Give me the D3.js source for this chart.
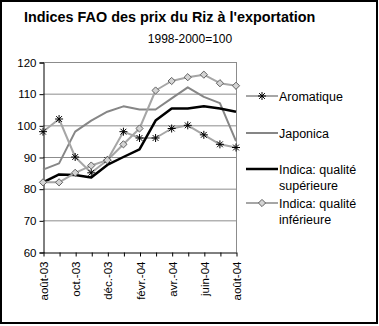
<!DOCTYPE html>
<html>
<head>
<meta charset="utf-8">
<script src="https://cdn.jsdelivr.net/npm/d3@7"></script>
<style>
  html, body { margin: 0; padding: 0; background: #fff; }
  svg { display: block; font-family: "Liberation Sans", Arial, sans-serif; }
</style>
</head>
<body>
<svg id="chart" width="379" height="326"></svg>
<script>
// Monthly categories, August 2003 to August 2004
const months = ["août-03","sept.-03","oct.-03","nov.-03","déc.-03","janv.-04","févr.-04","mars-04","avr.-04","mai-04","juin-04","juil.-04","août-04"];
const tickLabels = ["août-03","oct.-03","déc.-03","févr.-04","avr.-04","juin-04","août-04"];
const yTicks = [60, 70, 80, 90, 100, 110, 120];

// Index values (1998-2000 = 100)
const aromatique = [98, 102, 90, 85, 89, 98, 96, 96, 99, 100, 97, 94, 93];
const japonica   = [86, 88, 98, 101.5, 104.3, 106, 105, 105, 108.5, 112, 109, 107, 95];
const indicaSup  = [82, 84.5, 84.3, 83.5, 87.5, 90, 92.4, 101.5, 105.3, 105.3, 106, 105.3, 104.3];
const indicaInf  = [82, 82, 85, 87.3, 89, 94, 99, 111, 114, 115.2, 116, 113.3, 112.5];

const seriesNames = ["Aromatique", "Japonica", "Indica: qualité|supérieure", "Indica: qualité|inférieure"];

const svg = d3.select("#chart");

// outer frame
svg.append("rect").attr("x", 1).attr("y", 1).attr("width", 376).attr("height", 322)
  .attr("fill", "#fff").attr("stroke", "#000").attr("stroke-width", 2);

// titles
svg.append("text").attr("x", 24).attr("y", 22)
  .attr("font-size", 14.4).attr("font-weight", "bold").attr("fill", "#000")
  .text("Indices FAO des prix du Riz à l'exportation");
svg.append("text").attr("x", 190).attr("y", 43).attr("text-anchor", "middle")
  .attr("font-size", 12).attr("fill", "#000").text("1998-2000=100");

const plot = { left: 43, right: 236, top: 62, bottom: 252 };

const x = d3.scalePoint().domain(months).range([plot.left, plot.right]);
const y = d3.scaleLinear().domain([60, 120]).range([plot.bottom, plot.top]);

// horizontal gridlines
svg.append("g").selectAll("line").data(yTicks.filter(v => v > 60)).join("line")
  .attr("x1", plot.left).attr("x2", plot.right)
  .attr("y1", d => y(d) + 0.5).attr("y2", d => y(d) + 0.5)
  .attr("stroke", "#8c8c8c").attr("stroke-width", 1);

// right border of plot area
svg.append("line").attr("x1", plot.right + 0.5).attr("x2", plot.right + 0.5)
  .attr("y1", plot.top).attr("y2", plot.bottom)
  .attr("stroke", "#8c8c8c").attr("stroke-width", 1);

// y axis
const yAxis = svg.append("g").attr("transform", `translate(${plot.left + 0.5},0.5)`)
  .call(d3.axisLeft(y).tickValues(yTicks).tickSize(4).tickPadding(3).tickFormat(d3.format("d")));
yAxis.select(".domain").attr("stroke", "#000");
yAxis.selectAll(".tick line").attr("stroke", "#000");
yAxis.selectAll("text").attr("font-size", 11.5).attr("fill", "#000")
  .attr("font-family", "'Liberation Sans', Arial, sans-serif");

// x axis
const xAxis = svg.append("g").attr("transform", `translate(0.5,${plot.bottom + 0.5})`)
  .call(d3.axisBottom(x).tickSize(4).tickSizeOuter(0).tickFormat(d => tickLabels.includes(d) ? d : ""));
xAxis.select(".domain").attr("stroke", "#000");
xAxis.selectAll(".tick line").attr("stroke", "#000");
xAxis.selectAll("text")
  .attr("font-size", 11.5).attr("fill", "#000")
  .attr("font-family", "'Liberation Sans', Arial, sans-serif")
  .attr("text-anchor", "end")
  .attr("transform", "rotate(-90)")
  .attr("x", -9).attr("y", 0).attr("dy", "0.35em");

const line = d3.line().x((d, i) => x(months[i])).y(d => y(d));

// marker shapes
function star(g, cx, cy) {
  const r = 4, q = 2.9;
  g.append("path")
    .attr("d", `M${cx - r},${cy}H${cx + r}M${cx},${cy - r}V${cy + r}M${cx - q},${cy - q}L${cx + q},${cy + q}M${cx - q},${cy + q}L${cx + q},${cy - q}`)
    .attr("stroke", "#000").attr("stroke-width", 1).attr("fill", "none");
}
function diamond(g, cx, cy) {
  const r = 3.6;
  g.append("path")
    .attr("d", `M${cx},${cy - r}L${cx + r},${cy}L${cx},${cy + r}L${cx - r},${cy}Z`)
    .attr("stroke", "#606060").attr("stroke-width", 1).attr("fill", "#d4d4d4");
}

const series = [
  { data: aromatique, color: "#a6a6a6", width: 2, marker: star },
  { data: japonica, color: "#868686", width: 2, marker: null },
  { data: indicaSup, color: "#000", width: 2.5, marker: null },
  { data: indicaInf, color: "#a6a6a6", width: 2, marker: diamond }
];

const drawOrder = [1, 0, 2, 3];
drawOrder.forEach(k => {
  const s = series[k];
  svg.append("path").datum(s.data).attr("d", line)
    .attr("fill", "none").attr("stroke", s.color).attr("stroke-width", s.width)
    .attr("stroke-linejoin", "round");
});
[0, 3].forEach(k => {
  const s = series[k];
  const g = svg.append("g");
  s.data.forEach((v, i) => s.marker(g, x(months[i]), y(v)));
});

// legend
const legendRows = [96, 133, 169, 203];
const lg = svg.append("g");
series.forEach((s, k) => {
  const ly = legendRows[k];
  lg.append("line").attr("x1", 246).attr("x2", 278).attr("y1", ly).attr("y2", ly)
    .attr("stroke", s.color).attr("stroke-width", s.width);
  if (s.marker) s.marker(lg, 262, ly);
  const parts = seriesNames[k].split("|");
  const t = lg.append("text").attr("x", 279).attr("y", ly + 4.5)
    .attr("font-size", 12.5).attr("fill", "#000");
  parts.forEach((p, j) => {
    t.append("tspan").attr("x", 279).attr("dy", j === 0 ? 0 : 16).text(p);
  });
});
</script>
</body>
</html>
